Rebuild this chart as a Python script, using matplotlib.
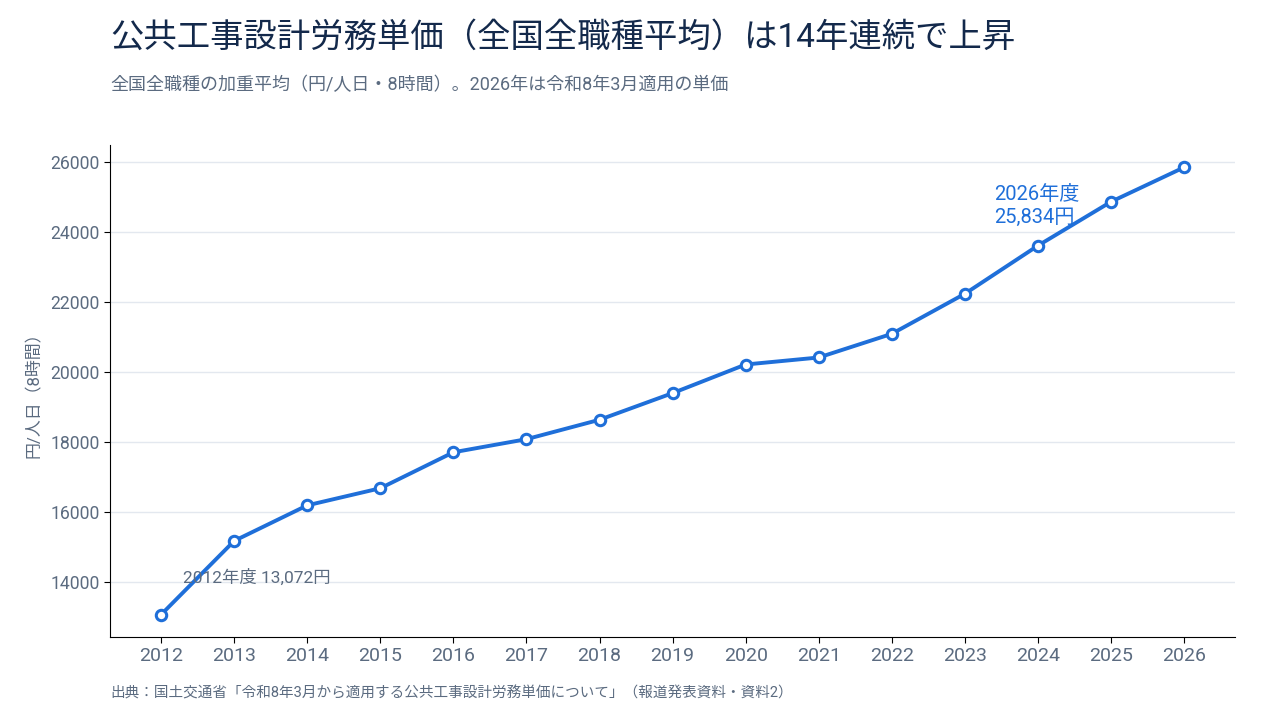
import matplotlib
matplotlib.use("Agg")
import matplotlib.pyplot as plt

plt.rcParams['font.family'] = ['Roboto', 'Noto Sans CJK JP', 'DejaVu Sans']

years = [2012, 2013, 2014, 2015, 2016, 2017, 2018, 2019, 2020, 2021, 2022, 2023, 2024, 2025, 2026]
wage = [13072, 15175, 16190, 16678, 17704, 18078, 18632, 19392, 20209, 20409, 21084, 22227, 23600, 24852, 25834]

title = "公共工事設計労務単価（全国全職種平均）は14年連続で上昇"
subtitle = "全国全職種の加重平均（円/人日・8時間）。2026年は令和8年3月適用の単価"
source = "出典：国土交通省「令和8年3月から適用する公共工事設計労務単価について」（報道発表資料・資料2）"

blue = "#1f6fd9"
gray = "#5b6b80"
navy = "#13294b"

fig = plt.figure(figsize=(12.8, 7.2), dpi=100)
ax = fig.add_axes([0.0859, 0.1153, 0.8791, 0.6833])

ax.plot(years, wage, color=blue, linewidth=2.8, marker="o", markersize=7.5,
        markerfacecolor="white", markeredgecolor=blue, markeredgewidth=2.2, zorder=3)

ax.set_xticks(years)
ax.set_yticks(range(14000, 26001, 2000))
ax.tick_params(axis="x", labelsize=14, colors=gray, length=4)
ax.tick_params(axis="y", labelsize=12.7, colors=gray, length=4)
ax.tick_params(axis="both", color="black")
ax.grid(axis="y", color="#e3e8ef", linewidth=1)
ax.set_axisbelow(True)
for s in ["top", "right"]:
    ax.spines[s].set_visible(False)
ax.set_ylabel("円/人日（8時間）", color=gray, fontsize=12.2, labelpad=6)

ax.annotate(f"{years[0]}年度 {wage[0]:,}円", xy=(years[0], wage[0]), xytext=(16, 27),
            textcoords="offset points", ha="left", va="center", fontsize=12.5, color=gray)
ax.annotate(f"{years[-1]}年度\n{wage[-1]:,}円", xy=(years[-1], wage[-1]), xytext=(-137, -28),
            textcoords="offset points", ha="left", va="center", fontsize=14.5, color=blue,
            linespacing=1.25)

fig.text(0.0859, 0.948, title, fontsize=24, color=navy, ha="left", va="center")
fig.text(0.0859, 0.882, subtitle, fontsize=13, color=gray, ha="left", va="center")
fig.text(0.0859, 0.037, source, fontsize=10.5, color=gray, ha="left", va="center")

fig.savefig("out.png", dpi=100)
